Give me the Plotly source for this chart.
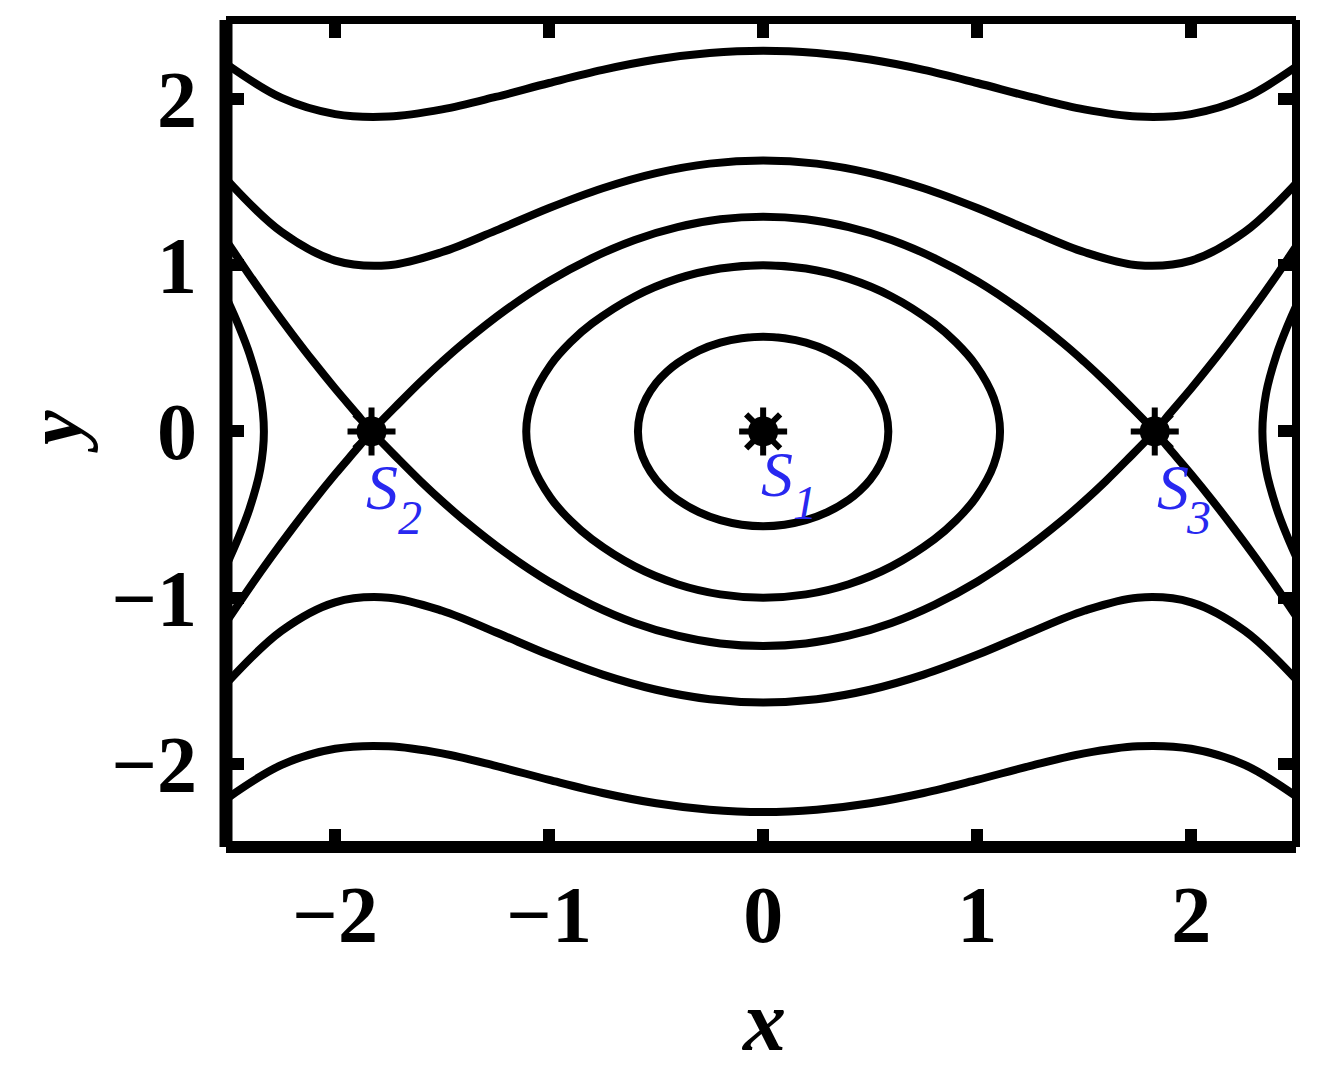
import plotly.graph_objects as go

# ---------------- data ----------------
# common x grid for the open (wavy) orbits
XS = [-2.5, -2.25, -2.0, -1.75, -1.5, -1.25, -1.0, -0.75, -0.5, -0.25, 0.0,
      0.25, 0.5, 0.75, 1.0, 1.25, 1.5, 1.75, 2.0, 2.25, 2.5]

# outermost open orbit (upper / lower)
TOP_Y = [2.203, 2.006, 1.909, 1.894, 1.937, 2.012, 2.096, 2.175, 2.237, 2.276, 2.290,
         2.276, 2.237, 2.175, 2.096, 2.012, 1.937, 1.894, 1.909, 2.006, 2.203]
BOT_Y = [-2.203, -2.006, -1.909, -1.894, -1.937, -2.012, -2.096, -2.175, -2.237, -2.276, -2.290,
         -2.276, -2.237, -2.175, -2.096, -2.012, -1.937, -1.894, -1.909, -2.006, -2.203]

# second open orbit (upper / lower)
MID_TOP_Y = [1.505, 1.199, 1.028, 1.000, 1.079, 1.208, 1.344, 1.463, 1.554, 1.611, 1.630,
             1.611, 1.554, 1.463, 1.344, 1.208, 1.079, 1.000, 1.028, 1.199, 1.505]
MID_BOT_Y = [-1.505, -1.199, -1.028, -1.000, -1.079, -1.208, -1.344, -1.463, -1.554, -1.611, -1.630,
             -1.611, -1.554, -1.463, -1.344, -1.208, -1.079, -1.000, -1.028, -1.199, -1.505]

# separatrices through the saddles S2, S3
SEP_X = [-2.55, -2.5, -2.4, -2.3, -2.2, -2.1, -2.0, -1.9, -1.83, -1.7, -1.6, -1.5, -1.4,
         -1.2, -1.0, -0.8, -0.6, -0.4, -0.2, 0.0, 0.2, 0.4, 0.6, 0.8, 1.0, 1.2,
         1.4, 1.5, 1.6, 1.7, 1.83, 1.9, 2.0, 2.1, 2.2, 2.3, 2.4, 2.5, 2.55]
SEP_A_Y = [1.220, 1.130, 0.940, 0.758, 0.584, 0.417, 0.258, 0.107, 0.0, -0.172, -0.300, -0.420, -0.532,
           -0.733, -0.904, -1.043, -1.152, -1.229, -1.276, -1.291, -1.276, -1.229, -1.152, -1.043, -0.904, -0.733,
           -0.532, -0.420, -0.300, -0.172, 0.0, 0.107, 0.258, 0.417, 0.584, 0.758, 0.940, 1.130, 1.220]
SEP_B_Y = [-1.220, -1.130, -0.940, -0.758, -0.584, -0.417, -0.258, -0.107, 0.0, 0.172, 0.300, 0.420, 0.532,
           0.733, 0.904, 1.043, 1.152, 1.229, 1.276, 1.291, 1.276, 1.229, 1.152, 1.043, 0.904, 0.733,
           0.532, 0.420, 0.300, 0.172, 0.0, -0.107, -0.258, -0.417, -0.584, -0.758, -0.940, -1.130, -1.220]

# closed orbit around S1 (middle)
RING_X = [-0.20, 0.0, 0.20, 0.40, 0.60, 0.80, 0.90, 0.993, 1.078, 1.107, 1.078, 0.993, 0.90, 0.80,
          0.60, 0.40, 0.20, 0.0, -0.20, -0.40, -0.60, -0.80, -0.90, -0.993, -1.078, -1.107,
          -1.078, -0.993, -0.90, -0.80, -0.60, -0.40, -0.20, 0.0, 0.20]
RING_Y = [0.980, 1.000, 0.980, 0.919, 0.812, 0.649, 0.537, 0.400, 0.200, 0.0, -0.200, -0.400, -0.537, -0.649,
          -0.812, -0.919, -0.980, -1.000, -0.980, -0.919, -0.812, -0.649, -0.537, -0.400, -0.200, 0.0,
          0.200, 0.400, 0.537, 0.649, 0.812, 0.919, 0.980, 1.000, 0.980]

# innermost closed orbit around S1
CORE_X = [-0.10, 0.0, 0.10, 0.20, 0.30, 0.40, 0.45, 0.50, 0.546, 0.575, 0.585, 0.575, 0.546, 0.50, 0.45,
          0.40, 0.30, 0.20, 0.10, 0.0, -0.10, -0.20, -0.30, -0.40, -0.45, -0.50, -0.546, -0.575,
          -0.585, -0.575, -0.546, -0.50, -0.45, -0.40, -0.30, -0.20, -0.10, 0.0, 0.10]
CORE_Y = [0.561, 0.570, 0.561, 0.534, 0.486, 0.411, 0.359, 0.291, 0.200, 0.104, 0.0, -0.104, -0.200, -0.291,
          -0.359, -0.411, -0.486, -0.534, -0.561, -0.570, -0.561, -0.534, -0.486, -0.411, -0.359, -0.291,
          -0.200, -0.104, 0.0, 0.104, 0.200, 0.291, 0.359, 0.411, 0.486, 0.534, 0.561, 0.570, 0.561]

# orbits bulging in from the left / right edges
LEFT_X = [-2.55, -2.5, -2.45, -2.4, -2.35, -2.333, -2.35, -2.4, -2.45, -2.5, -2.55]
RIGHT_X = [2.55, 2.5, 2.45, 2.4, 2.35, 2.333, 2.35, 2.4, 2.45, 2.5, 2.55]
EDGE_Y = [0.917, 0.781, 0.634, 0.465, 0.228, 0.0, -0.228, -0.465, -0.634, -0.781, -0.917]

# equilibrium points and their labels
EQ_X = [0.0, -1.83, 1.83]
EQ_Y = [0.0, 0.0, 0.0]
EQ_NAMES = ["S", "S", "S"]
EQ_SUBS = ["1", "2", "3"]

TICKS = [-2, -1, 0, 1, 2]

# ---------------- figure ----------------
LW = 8
fig = go.Figure()

def curve(x, y):
    fig.add_trace(go.Scatter(x=x, y=y, mode="lines",
                             line=dict(color="black", width=LW, shape="spline", smoothing=1.0),
                             hoverinfo="skip", showlegend=False))

curve(XS, TOP_Y)
curve(XS, BOT_Y)
curve(XS, MID_TOP_Y)
curve(XS, MID_BOT_Y)
curve(SEP_X, SEP_A_Y)
curve(SEP_X, SEP_B_Y)
curve(RING_X, RING_Y)
curve(CORE_X, CORE_Y)
curve(LEFT_X, EDGE_Y)
curve(RIGHT_X, EDGE_Y)

# equilibrium markers: a filled disc plus a thick asterisk
fig.add_trace(go.Scatter(x=EQ_X, y=EQ_Y, mode="markers",
                         marker=dict(symbol="circle", size=30, color="black"),
                         hoverinfo="skip", showlegend=False))
fig.add_trace(go.Scatter(x=EQ_X, y=EQ_Y, mode="markers",
                         marker=dict(symbol="asterisk-open", size=40, color="black",
                                     line=dict(color="black", width=6)),
                         hoverinfo="skip", showlegend=False))

BLUE = "rgb(40,40,240)"
SERIF = "Liberation Serif"
label_off = [(0.065, -0.26, 0.196, -0.43),
             (0.05, -0.34, 0.18, -0.515),
             (0.085, -0.34, 0.205, -0.515)]
for ex, ey, nm, sb, off in zip(EQ_X, EQ_Y, EQ_NAMES, EQ_SUBS, label_off):
    fig.add_annotation(x=ex + off[0], y=ey + off[1], xref="x", yref="y",
                       text="<i>" + nm + "</i>", showarrow=False,
                       font=dict(family=SERIF, size=64, color=BLUE))
    fig.add_annotation(x=ex + off[2], y=ey + off[3], xref="x", yref="y",
                       text="<i>" + sb + "</i>", showarrow=False,
                       font=dict(family=SERIF, size=48, color=BLUE))

# axis titles
fig.add_annotation(x=0.502, y=-0.210, xref="paper", yref="paper",
                   text="<b><i>x</i></b>", showarrow=False,
                   font=dict(family=SERIF, size=86, color="black"),
                   xanchor="center", yanchor="middle")
fig.add_annotation(x=-0.1608, y=0.503, xref="paper", yref="paper",
                   text="<b><i>y</i></b>", showarrow=False, textangle=-90,
                   font=dict(family=SERIF, size=78, color="black"),
                   xanchor="center", yanchor="middle", borderpad=0)

# thick frame
frame = [(0, 0, 0, 1, 13), (1, 0, 1, 1, 8), (0, 0, 1, 0, 12), (0, 1, 1, 1, 8)]
for x0, y0, x1, y1, w in frame:
    fig.add_shape(type="line", xref="paper", yref="paper", x0=x0, y0=y0, x1=x1, y1=y1,
                  line=dict(color="black", width=w), layer="above")

axis_common = dict(showgrid=False, zeroline=False, showline=False, automargin=False,
                   ticks="inside", ticklen=18, tickwidth=12, tickcolor="black",
                   mirror="ticks", tickvals=TICKS,
                   tickfont=dict(family=SERIF, size=80, color="black", weight="bold"))

fig.update_xaxes(range=[-2.51, 2.49], ticklabelstandoff=14, **axis_common)
fig.update_yaxes(range=[-2.5, 2.475], ticklabelstandoff=28, **axis_common)

# the page body adds an 8px offset, so the figure is 8px smaller in each direction
fig.update_layout(width=1326, height=1067,
                  margin=dict(l=217.5, r=38, t=12, b=228, pad=0, autoexpand=False),
                  paper_bgcolor="white", plot_bgcolor="white",
                  showlegend=False)

fig.write_html("out.html")
